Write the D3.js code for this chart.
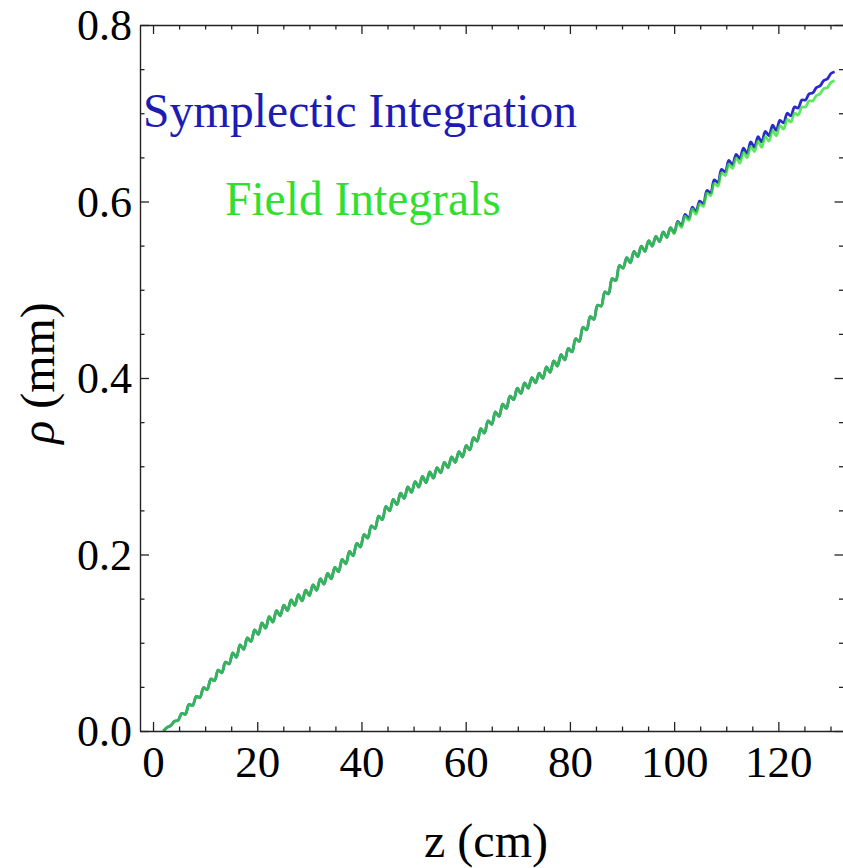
<!DOCTYPE html>
<html>
<head>
<meta charset="utf-8">
<script src="https://cdn.jsdelivr.net/npm/d3@7"></script>
<style>
  html, body { margin: 0; padding: 0; background: #fff; }
  svg { display: block; }
  text { font-family: "Liberation Serif", "Times New Roman", serif; }
</style>
</head>
<body>
<svg id="chart" width="843" height="868"></svg>
<script>
// Axial position z (cm), one sample per half-wiggle of the orbit
const zCm = [
  2.0, 2.7, 3.4, 4.1, 4.8, 5.5, 6.2, 6.9, 7.6, 8.3, 9.0, 9.7,
  10.4, 11.1, 11.8, 12.5, 13.2, 13.9, 14.6, 15.3, 16.0, 16.7, 17.4, 18.1, 18.8, 19.5,
  20.2, 20.9, 21.6, 22.3, 23.0, 23.7, 24.4, 25.1, 25.8, 26.5, 27.2, 27.9, 28.6, 29.3,
  30.0, 30.7, 31.4, 32.1, 32.8, 33.5, 34.2, 34.9, 35.6, 36.3, 37.0, 37.7, 38.4, 39.1, 39.8,
  40.5, 41.2, 41.9, 42.6, 43.3, 44.0, 44.7, 45.4, 46.1, 46.8, 47.5, 48.2, 48.9, 49.6,
  50.3, 51.0, 51.7, 52.4, 53.1, 53.8, 54.5, 55.2, 55.9, 56.6, 57.3, 58.0, 58.7, 59.4,
  60.1, 60.8, 61.5, 62.2, 62.9, 63.6, 64.3, 65.0, 65.7, 66.4, 67.1, 67.8, 68.5, 69.2, 69.9,
  70.6, 71.3, 72.0, 72.7, 73.4, 74.1, 74.8, 75.5, 76.2, 76.9, 77.6, 78.3, 79.0, 79.7,
  80.4, 81.1, 81.8, 82.5, 83.2, 83.9, 84.6, 85.3, 86.0, 86.7, 87.4, 88.1, 88.8, 89.5,
  90.2, 90.9, 91.6, 92.3, 93.0, 93.7, 94.4, 95.1, 95.8, 96.5, 97.2, 97.9, 98.6, 99.3,
  100.0, 100.7, 101.4, 102.1, 102.8, 103.5, 104.2, 104.9, 105.6, 106.3, 107.0, 107.7, 108.4, 109.1, 109.8,
  110.5, 111.2, 111.9, 112.6, 113.3, 114.0, 114.7, 115.4, 116.1, 116.8, 117.5, 118.2, 118.9, 119.6,
  120.3, 121.0, 121.7, 122.4, 123.1, 123.8, 124.5, 125.2, 125.9, 126.6, 127.3, 128.0, 128.7, 129.4,
  130.1, 130.8
];

// Radial offset rho (mm) from the symplectic integrator
const rhoSymplectic = [
  0.000, 0.004, 0.006, 0.011, 0.012, 0.020, 0.019, 0.030, 0.029, 0.039, 0.038, 0.049,
  0.047, 0.059, 0.057, 0.069, 0.066, 0.078, 0.076,
  0.0885, 0.0835, 0.0975, 0.0925, 0.1055, 0.1015, 0.1145,
  0.1095, 0.1225, 0.1165, 0.1295, 0.1235, 0.1365, 0.1305,
  0.1425, 0.1365, 0.1485, 0.1425, 0.1545, 0.1475, 0.1595,
  0.1535, 0.1655, 0.1595, 0.1725, 0.1665, 0.1785, 0.1725, 0.1855,
  0.1805, 0.1945, 0.1895, 0.2035, 0.1985, 0.2125, 0.2085,
  0.2225, 0.2185, 0.2325, 0.2295, 0.2435, 0.2395, 0.2545,
  0.2495, 0.2625, 0.2565, 0.2695, 0.2635, 0.2765, 0.2705,
  0.2825, 0.2765, 0.2885, 0.2815, 0.2935, 0.2865, 0.2985,
  0.2925, 0.3045, 0.2985, 0.3105, 0.3045, 0.3165, 0.3105,
  0.3235, 0.3185, 0.3325, 0.3285, 0.3425, 0.3375, 0.3515,
  0.3475, 0.3615, 0.3565, 0.3705, 0.3655, 0.3795, 0.3755, 0.3885,
  0.3825, 0.3945, 0.3885, 0.4005, 0.3945, 0.4055, 0.3995,
  0.4125, 0.4065, 0.4195, 0.4135, 0.4265, 0.4205, 0.4335,
  0.4295, 0.4445, 0.4415, 0.4575, 0.4545, 0.4695, 0.4665,
  0.4825, 0.4815, 0.4975, 0.4955, 0.5125, 0.5105, 0.5275,
  0.5245, 0.5365, 0.5305, 0.5435, 0.5375, 0.5495, 0.5435,
  0.5555, 0.5495, 0.5605, 0.5545, 0.5655, 0.5595, 0.5705,
  0.5645, 0.5775, 0.5725, 0.5855, 0.5805, 0.5935, 0.5885, 0.6005,
  0.5975, 0.6125, 0.6095, 0.6245, 0.6215, 0.6365, 0.6335,
  0.6465, 0.6415, 0.6535, 0.6485, 0.6605, 0.6545, 0.6675,
  0.6615, 0.6735, 0.6675, 0.6795, 0.6745, 0.6865, 0.6805,
  0.692, 0.689, 0.700, 0.697, 0.707, 0.706, 0.715,
  0.715, 0.722, 0.723, 0.729, 0.731, 0.737, 0.739, 0.745, 0.747
];

// Radial offset rho (mm) from the field-integral model; it tracks the
// symplectic result up to z = 100 cm and then falls slightly below it
const rhoField = rhoSymplectic.slice(0, 140).concat([
  0.5635, 0.5765, 0.5705, 0.5835, 0.5785, 0.5915, 0.5855, 0.5975,
  0.5945, 0.6095, 0.6065, 0.6205, 0.6175, 0.6325, 0.6295,
  0.6425, 0.6375, 0.6495, 0.6435, 0.6555, 0.6495, 0.6625,
  0.6565, 0.6685, 0.6615, 0.6735, 0.6685, 0.6805, 0.6745,
  0.686, 0.682, 0.693, 0.690, 0.700, 0.698, 0.707,
  0.707, 0.714, 0.714, 0.720, 0.722, 0.728, 0.729, 0.735, 0.737
]);

const xMajorTicks = [0, 20, 40, 60, 80, 100, 120];
const xMinorTicks = [5, 10, 15, 25, 30, 35, 45, 50, 55, 65, 70, 75, 85, 90, 95, 105, 110, 115, 125, 130];
const yMajorTicks = [0.0, 0.2, 0.4, 0.6, 0.8];
const yMinorTicks = [0.05, 0.10, 0.15, 0.25, 0.30, 0.35, 0.45, 0.50, 0.55, 0.65, 0.70, 0.75];

const seriesNames = ["Symplectic Integration", "Field Integrals"];
const seriesColors = ["#2a2ac8", "#33e033"];
const labelColors = ["#1c1cb4", "#2fe02f"];

(function draw() {
  const svg = d3.select("#chart");
  const pLeft = 140, pRight = 843.5, pTop = 25, pBottom = 731;

  const x = d3.scaleLinear().domain([-2.5, 132.5]).range([pLeft, pRight]);
  const y = d3.scaleLinear().domain([0, 0.8]).range([pBottom, pTop]);

  svg.append("defs").append("clipPath").attr("id", "plotclip")
    .append("rect").attr("x", pLeft).attr("y", pTop)
    .attr("width", pRight - pLeft).attr("height", pBottom - pTop);

  // Curves
  const line = d3.line()
    .x((d, i) => x(zCm[i]))
    .y(d => y(d))
    .curve(d3.curveCatmullRom.alpha(0.5));

  const plot = svg.append("g").attr("clip-path", "url(#plotclip)");
  plot.append("path")
    .datum(rhoSymplectic)
    .attr("d", line)
    .attr("fill", "none")
    .attr("stroke", seriesColors[0])
    .attr("stroke-width", 2.8)
    .attr("stroke-linejoin", "round");
  plot.append("path")
    .datum(rhoField)
    .attr("d", line)
    .attr("fill", "none")
    .attr("stroke", seriesColors[1])
    .attr("stroke-opacity", 0.78)
    .attr("stroke-width", 2.8)
    .attr("stroke-linejoin", "round");

  // Frame with inward ticks on all four sides
  const frameColor = "#222";
  const tickFont = 45;

  function styleTicks(g) {
    g.selectAll(".tick line").attr("stroke", frameColor).attr("stroke-width", 1.3);
  }
  function styleAxis(g) {
    g.select(".domain").attr("stroke", frameColor).attr("stroke-width", 1.4);
    styleTicks(g);
    g.selectAll("text").attr("font-family", "Liberation Serif, serif").attr("fill", "#000");
  }
  function minor(axis, transform) {
    svg.append("g").attr("transform", transform)
      .call(axis.tickSizeInner(-4.5).tickSizeOuter(0).tickFormat(""))
      .call(g => { g.select(".domain").remove(); styleTicks(g); });
  }

  // bottom
  const gB = svg.append("g").attr("transform", `translate(0,${pBottom})`)
    .call(d3.axisBottom(x).tickValues(xMajorTicks).tickSizeInner(-9).tickSizeOuter(0).tickPadding(14)
      .tickFormat(d3.format("d")));
  styleAxis(gB);
  gB.selectAll("text").attr("font-size", tickFont).attr("dy", "0.71em");
  minor(d3.axisBottom(x).tickValues(xMinorTicks), `translate(0,${pBottom})`);

  // top
  const gT = svg.append("g").attr("transform", `translate(0,${pTop})`)
    .call(d3.axisTop(x).tickValues(xMajorTicks).tickSizeInner(-9).tickSizeOuter(0).tickFormat(""));
  styleAxis(gT);
  minor(d3.axisTop(x).tickValues(xMinorTicks), `translate(0,${pTop})`);

  // left
  const gL = svg.append("g").attr("transform", `translate(${pLeft},0)`)
    .call(d3.axisLeft(y).tickValues(yMajorTicks).tickSizeInner(-9).tickSizeOuter(0).tickPadding(8)
      .tickFormat(d3.format(".1f")));
  styleAxis(gL);
  gL.selectAll("text").attr("font-size", 44).attr("dy", "0.33em");
  minor(d3.axisLeft(y).tickValues(yMinorTicks), `translate(${pLeft},0)`);

  // right
  const gR = svg.append("g").attr("transform", `translate(${pRight},0)`)
    .call(d3.axisRight(y).tickValues(yMajorTicks).tickSizeInner(-9).tickSizeOuter(0).tickFormat(""));
  styleAxis(gR);
  minor(d3.axisRight(y).tickValues(yMinorTicks), `translate(${pRight},0)`);

  // Axis titles
  svg.append("text")
    .attr("x", 486)
    .attr("y", 857)
    .attr("text-anchor", "middle")
    .attr("font-size", 48)
    .attr("fill", "#000")
    .text("z (cm)");

  const yTitle = svg.append("text")
    .attr("transform", `translate(54,${373}) rotate(-90)`)
    .attr("text-anchor", "middle")
    .attr("font-size", 48)
    .attr("fill", "#000");
  yTitle.append("tspan").attr("font-style", "italic").text("ρ");
  yTitle.append("tspan").text(" (mm)");

  // Series labels inside the frame
  svg.append("text")
    .attr("x", 143).attr("y", 127)
    .attr("font-size", 47.5)
    .attr("fill", labelColors[0])
    .text(seriesNames[0]);
  svg.append("text")
    .attr("x", 225).attr("y", 215)
    .attr("font-size", 47.5)
    .attr("fill", labelColors[1])
    .text(seriesNames[1]);
})();
</script>
</body>
</html>
